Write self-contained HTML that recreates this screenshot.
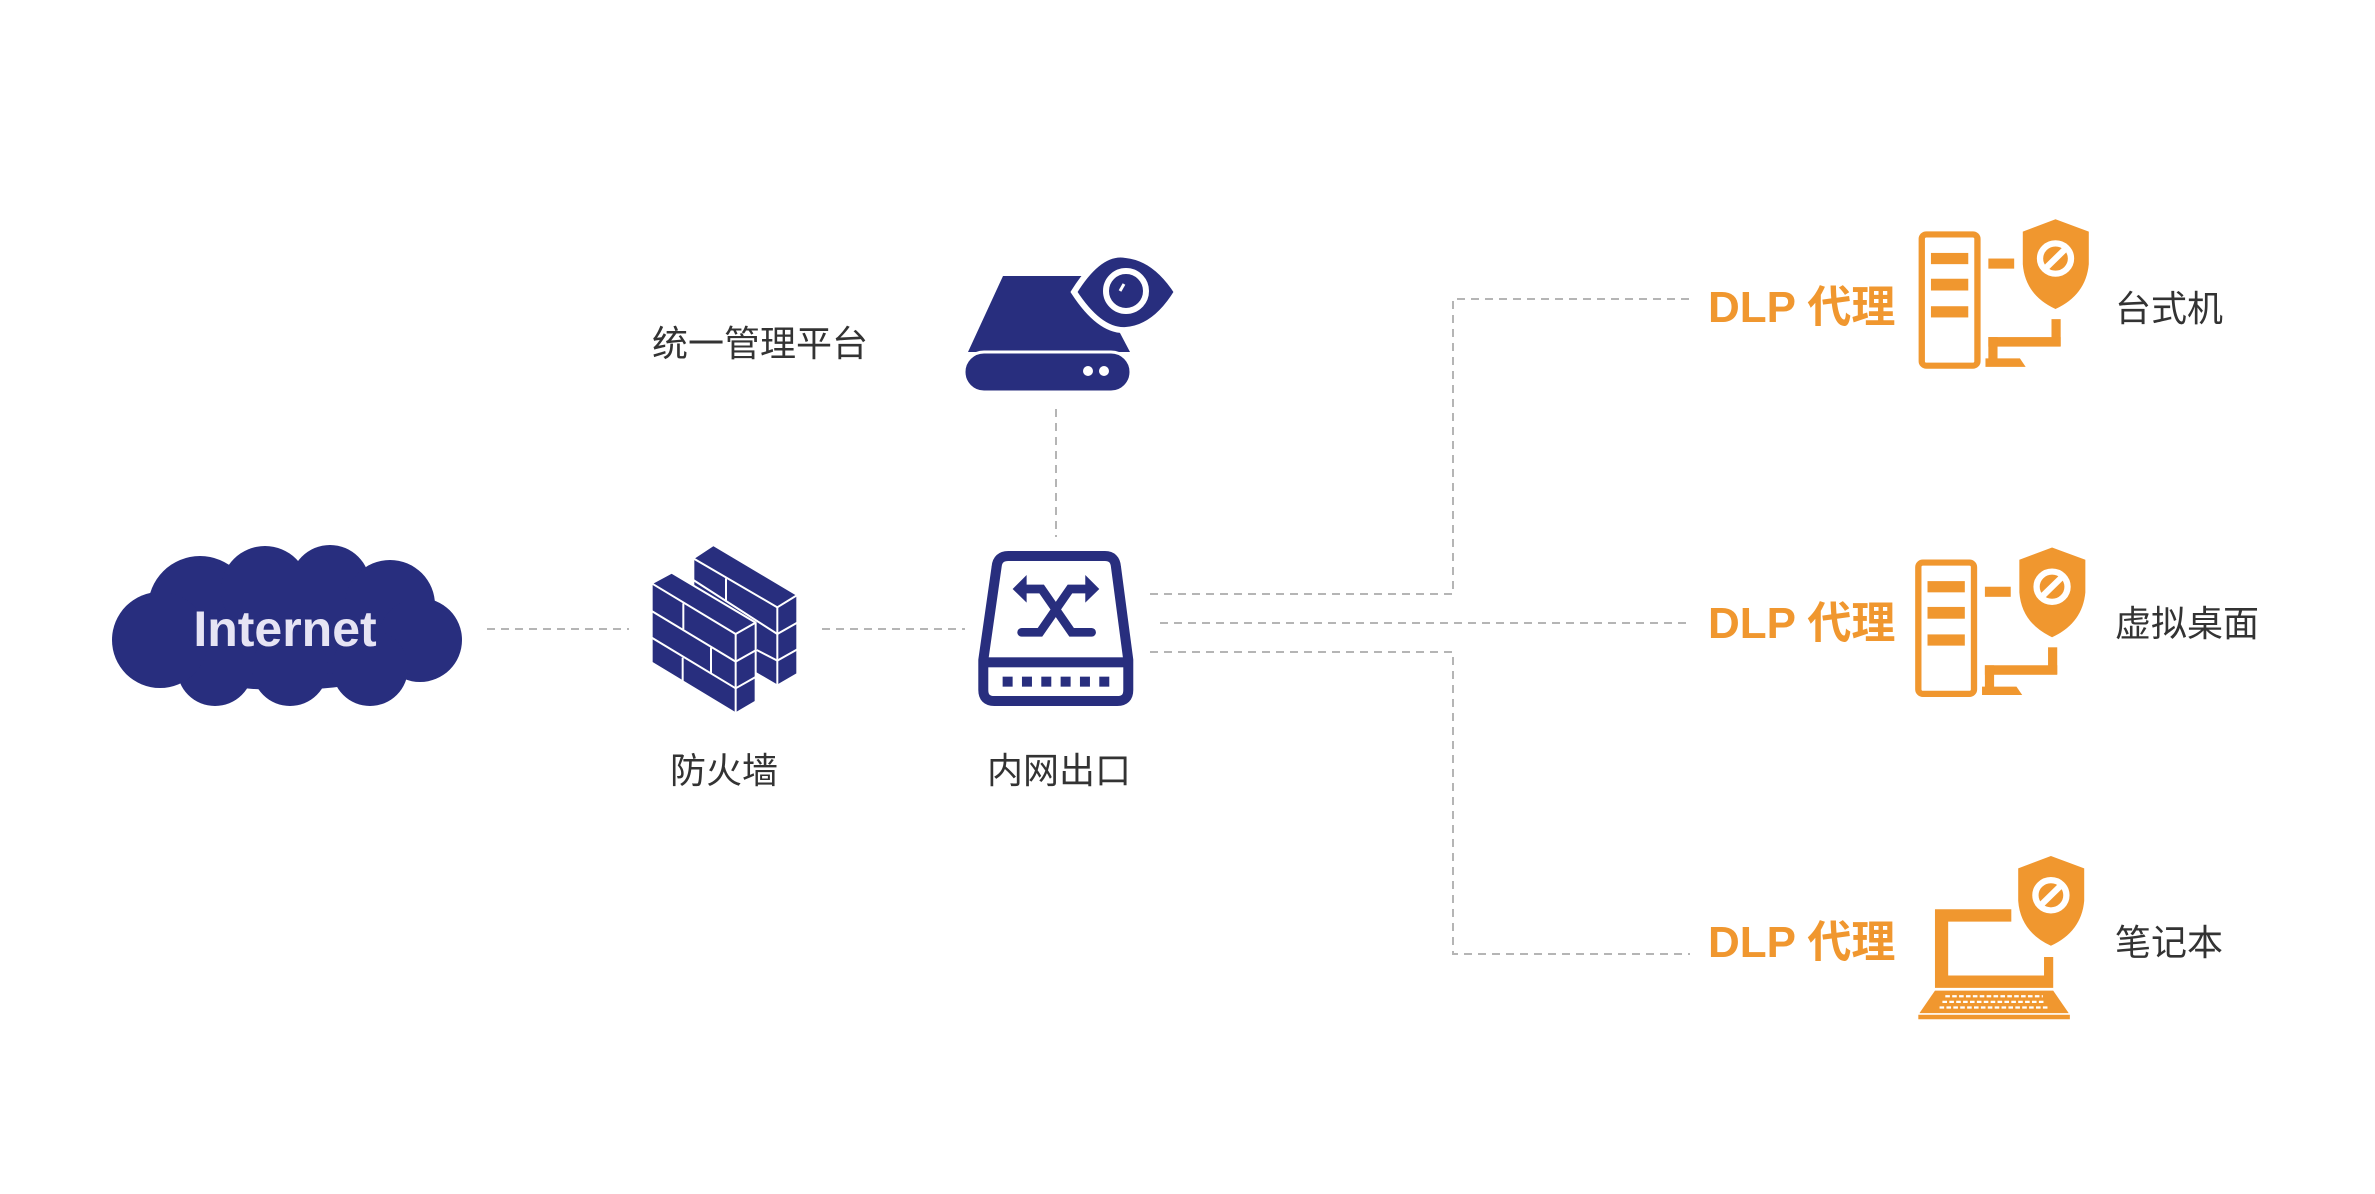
<!DOCTYPE html>
<html><head><meta charset="utf-8"><style>
html,body{margin:0;padding:0;background:#fff;}
svg{display:block;}
.cn{font-family:"Liberation Sans","Noto Sans CJK SC",sans-serif;font-size:36px;fill:#333;}
.dlp{font-family:"Liberation Sans","Noto Sans CJK SC",sans-serif;font-size:44px;font-weight:bold;fill:#f0972f;}
</style></head><body>
<svg width="2375" height="1194" viewBox="0 0 2375 1194" xmlns="http://www.w3.org/2000/svg">
<defs>
<g id="shieldA">
 <path d="M1142,70 L1200,92 L1200,150 Q1195,205 1142,230 Q1089,205 1085,150 L1085,92 Z" fill="#f0972f"/>
 <circle cx="1142" cy="140" r="27" fill="none" stroke="#fff" stroke-width="11"/>
 <line x1="1124" y1="158" x2="1160" y2="122" stroke="#fff" stroke-width="11"/>
</g>
<g id="desk">
 <rect x="909" y="97" width="97" height="234" rx="8" fill="none" stroke="#f0972f" stroke-width="11"/>
 <rect x="925" y="130" width="65" height="20" fill="#f0972f"/>
 <rect x="925" y="176" width="65" height="21" fill="#f0972f"/>
 <rect x="925" y="225" width="65" height="20" fill="#f0972f"/>
 <rect x="1025" y="140" width="45" height="18" fill="#f0972f"/>
 <use href="#shieldA"/>
 <rect x="1135" y="248" width="16" height="48" fill="#f0972f"/>
 <rect x="1025" y="280" width="126" height="17" fill="#f0972f"/>
 <rect x="1025" y="280" width="16" height="40" fill="#f0972f"/>
 <polygon points="1020,318 1080,318 1090,333 1020,333" fill="#f0972f"/>
</g>
</defs>

<!-- connectors -->
<g stroke="#b5b5b5" stroke-width="2" stroke-dasharray="8,6" fill="none">
 <line x1="487" y1="629" x2="629" y2="629"/>
 <line x1="822" y1="629" x2="965" y2="629"/>
 <line x1="1056" y1="409" x2="1056" y2="537"/>
 <polyline points="1150,594 1453,594 1453,299 1690,299"/>
 <line x1="1160" y1="623" x2="1690" y2="623"/>
 <polyline points="1150,652 1453,652 1453,954 1690,954"/>
</g>

<!-- cloud -->
<g fill="#282e7e">
 <ellipse cx="285" cy="630" rx="170" ry="60"/>
 <circle cx="200" cy="608" r="52"/>
 <circle cx="265" cy="590" r="44"/>
 <circle cx="330" cy="585" r="40"/>
 <circle cx="390" cy="605" r="45"/>
 <circle cx="420" cy="640" r="42"/>
 <circle cx="370" cy="668" r="38"/>
 <circle cx="290" cy="668" r="38"/>
 <circle cx="215" cy="668" r="38"/>
 <circle cx="160" cy="640" r="48"/>
</g>
<text x="285" y="646" text-anchor="middle" font-family="Liberation Sans, sans-serif" font-weight="bold" font-size="50" fill="#e6e4f4">Internet</text>

<!-- firewall -->
<g transform="translate(640,530) scale(0.3333)" stroke="#fff" stroke-width="6" stroke-linejoin="round">
 <polygon points="160,85 220,45 472,195 472,432 412,467 160,320" fill="#282e7e"/>
 <polyline points="160,85 412,232 472,195" fill="none"/>
 <line x1="412" y1="232" x2="412" y2="467"/>
 <line x1="160" y1="150" x2="412" y2="312"/><line x1="412" y1="312" x2="472" y2="278"/>
 <line x1="350" y1="360" x2="412" y2="392"/><line x1="412" y1="392" x2="472" y2="358"/>
 <line x1="258" y1="145" x2="258" y2="215"/>
 <polygon points="35,160 95,128 347,278 347,515 287,550 35,398" fill="#282e7e"/>
 <polyline points="35,160 287,312 347,278" fill="none"/>
 <line x1="287" y1="312" x2="287" y2="550"/>
 <line x1="35" y1="243" x2="287" y2="395"/><line x1="287" y1="395" x2="347" y2="361"/>
 <line x1="35" y1="323" x2="287" y2="475"/><line x1="287" y1="475" x2="347" y2="441"/>
 <line x1="130" y1="220" x2="130" y2="298"/>
 <line x1="213" y1="353" x2="213" y2="430"/>
 <line x1="128" y1="383" x2="128" y2="455"/>
</g>

<!-- switch -->
<g transform="translate(640,530) scale(0.3333)" fill="#282e7e">
 <path d="M1105,78 L1395,78 Q1425,78 1428,110 L1465,390 L1465,480 Q1465,513 1432,513 L1063,513 Q1030,513 1030,480 L1030,390 L1070,110 Q1073,78 1105,78 Z" fill="none" stroke="#282e7e" stroke-width="30"/>
 <rect x="1030" y="382" width="435" height="30"/>
 <rect x="1088" y="440" width="30" height="30"/><rect x="1146" y="440" width="30" height="30"/>
 <rect x="1204" y="440" width="30" height="30"/><rect x="1262" y="440" width="30" height="30"/>
 <rect x="1320" y="440" width="30" height="30"/><rect x="1378" y="440" width="30" height="30"/>
 <g stroke="#282e7e" stroke-width="26" stroke-linecap="round" fill="none">
  <polyline points="1145,307 1200,307 1290,177 1340,177"/>
  <polyline points="1355,307 1295,307 1205,177 1150,177"/>
 </g>
 <polygon points="1118,177 1160,135 1160,218"/>
 <polygon points="1378,177 1336,135 1336,218"/>
</g>

<!-- management server -->
<g>
 <polygon points="1003,276 1090,276 1130,352 968,352" fill="#282e7e"/>
 <rect x="964" y="352" width="167" height="40" rx="20" fill="#282e7e" stroke="#fff" stroke-width="3"/>
 <circle cx="1088" cy="371" r="5" fill="#fff"/>
 <circle cx="1104" cy="371" r="5" fill="#fff"/>
 <path d="M1074,292 Q1100,250 1126,255 Q1155,258 1177,292 Q1155,328 1126,330 Q1100,332 1074,292 Z" fill="#282e7e" stroke="#fff" stroke-width="6"/>
 <circle cx="1126" cy="291" r="20" fill="none" stroke="#fff" stroke-width="6"/>
 <line x1="1120" y1="291" x2="1124" y2="284" stroke="#fff" stroke-width="3"/>
</g>

<!-- labels left -->
<text class="cn" x="760" y="356" text-anchor="middle">统一管理平台</text>
<text class="cn" x="724" y="783" text-anchor="middle">防火墙</text>
<text class="cn" x="1059" y="783" text-anchor="middle">内网出口</text>

<!-- right side -->
<text class="dlp" x="1708" y="322">DLP 代理</text>
<text class="dlp" x="1708" y="638">DLP 代理</text>
<text class="dlp" x="1708" y="957">DLP 代理</text>

<g transform="translate(1400,180) scale(0.574,0.561)">
 <use href="#desk"/>
 <g transform="translate(-6,585)"><use href="#desk"/></g>
 <g transform="translate(-8,1135)"><use href="#shieldA"/></g>
 <path d="M932,1300 L1065,1300 L1065,1322 L955,1322 L955,1418 L1122,1418 L1122,1385 L1138,1385 L1138,1440 L932,1440 Z" fill="#f0972f"/>
 <polygon points="932,1445 1138,1445 1165,1485 905,1485" fill="#f0972f"/>
 <rect x="903" y="1488" width="264" height="8" fill="#f0972f"/>
 <g stroke="#fff" stroke-width="4" stroke-dasharray="8,4">
  <line x1="950" y1="1455" x2="1120" y2="1455"/>
  <line x1="945" y1="1465" x2="1125" y2="1465"/>
  <line x1="940" y1="1475" x2="1130" y2="1475"/>
 </g>
</g>

<text class="cn" x="2115" y="321">台式机</text>
<text class="cn" x="2115" y="636">虚拟桌面</text>
<text class="cn" x="2115" y="955">笔记本</text>
</svg>
</body></html>
